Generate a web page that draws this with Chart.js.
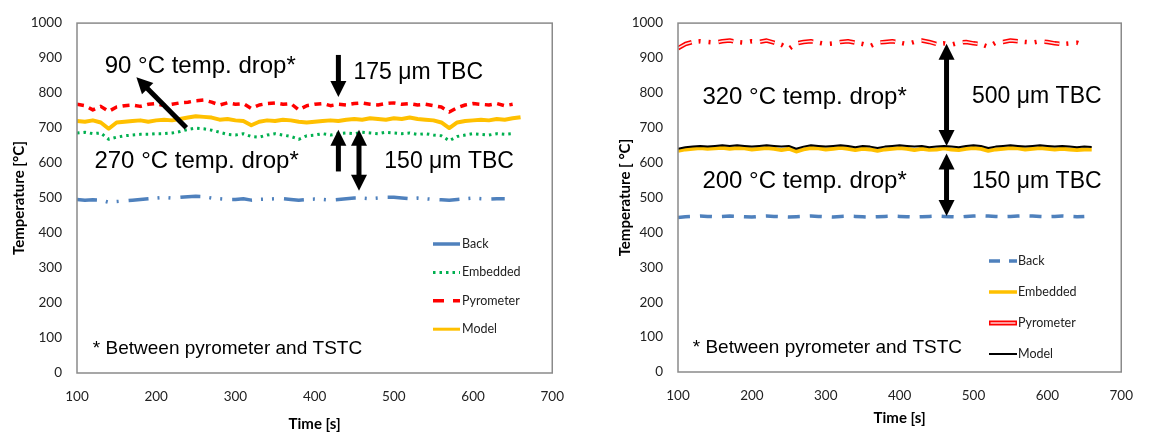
<!DOCTYPE html>
<html>
<head>
<meta charset="utf-8">
<script src="https://cdn.jsdelivr.net/npm/chart.js@4.4.1/dist/chart.umd.min.js"></script>
<style>
  html, body { margin: 0; padding: 0; background: #fff; }
  #wrap { position: relative; width: 1149px; height: 438px; }
  .box { position: absolute; top: 0; height: 438px; }
  #left { left: 0; width: 580px; }
  #right { left: 580px; width: 569px; }
</style>
</head>
<body>
<div id="wrap">
  <div class="box" id="left"><canvas id="chartA" width="580" height="438"></canvas></div>
  <div class="box" id="right"><canvas id="chartB" width="569" height="438"></canvas></div>
</div>
<script>
// time axis, seconds (shared by both panels)
const times = [100, 110, 120, 130, 140, 150, 160, 170, 180, 190,
  200, 210, 220, 230, 240, 250, 260, 270, 280, 290,
  300, 310, 320, 330, 340, 350, 360, 370, 380, 390,
  400, 410, 420, 430, 440, 450, 460, 470, 480, 490,
  500, 510, 520, 530, 540, 550, 560, 570, 580, 590,
  600, 610, 620, 630, 640, 650, 660];

const xTicks = [100, 200, 300, 400, 500, 600, 700];
const yTicks = [0, 100, 200, 300, 400, 500, 600, 700, 800, 900, 1000];
const seriesNames = ['Back', 'Embedded', 'Pyrometer', 'Model'];

// left panel: 175 / 150 um TBC
const leftPyrometer = [768, 764, 752, 762, 748, 760, 764, 766, 762, 768,
  770, 764, 768, 772, 774, 778, 780, 774, 766, 772,
  768, 770, 756, 766, 770, 772, 768, 770, 752, 764,
  768, 770, 764, 768, 766, 770, 772, 768, 766, 770,
  772, 768, 770, 766, 768, 764, 760, 746, 758, 766,
  770, 768, 766, 770, 764, 768, null];
const leftModel = [720, 718, 722, 716, 698, 716, 718, 720, 722, 718,
  722, 724, 722, 726, 730, 734, 732, 730, 724, 726,
  722, 720, 708, 718, 722, 720, 724, 722, 718, 716,
  718, 720, 722, 720, 724, 726, 724, 728, 726, 724,
  728, 726, 730, 726, 724, 722, 716, 700, 716, 720,
  722, 724, 722, 726, 724, 728, 731];
const leftEmbedded = [686, 688, 684, 686, 668, 674, 678, 680, 682, 682,
  684, 684, 686, 690, 696, 700, 698, 694, 688, 682,
  680, 684, 676, 674, 680, 684, 680, 676, 668, 678,
  680, 684, 680, 684, 686, 684, 688, 686, 684, 688,
  686, 684, 686, 682, 684, 680, 678, 664, 676, 680,
  684, 682, 680, 684, 682, 684, null];
const leftBack = [496, 494, 495, 494, 488, 490, 492, 494, 496, 498,
  500, 502, 500, 502, 504, 505, 504, 500, 498, 496,
  496, 498, 494, 496, 497, 498, 498, 496, 494, 496,
  497, 496, 494, 496, 498, 500, 500, 498, 500, 502,
  502, 500, 498, 500, 498, 496, 495, 494, 496, 498,
  500, 498, 497, 498, 498, null, null];

// right panel: 500 / 150 um TBC
const rightPyrometer = [928, 940, 946, 948, 946, 944, 948, 950, 946, 944,
  948, 946, 950, 944, 938, 926, 942, 946, 948, 944,
  940, 942, 946, 948, 944, 940, 934, 944, 946, 948,
  944, 940, 946, 950, 946, 940, 942, 938, 944, 946,
  942, 940, 932, 944, 946, 950, 948, 946, 944, 948,
  946, 942, 940, 942, 944, 936, null];
const rightModel = [640, 644, 646, 648, 646, 648, 650, 648, 650, 648,
  646, 648, 650, 648, 646, 648, 640, 646, 650, 648,
  646, 648, 650, 648, 644, 648, 646, 642, 646, 648,
  650, 648, 646, 648, 644, 646, 648, 646, 644, 648,
  650, 648, 642, 646, 648, 650, 648, 646, 648, 650,
  648, 646, 648, 646, 644, 646, 645];
const rightEmbedded = [634, 638, 640, 642, 640, 641, 643, 640, 642, 641,
  638, 640, 642, 640, 636, 640, 632, 638, 642, 641,
  638, 640, 643, 640, 636, 640, 638, 634, 638, 640,
  642, 640, 636, 640, 637, 638, 641, 638, 636, 640,
  642, 640, 634, 638, 640, 642, 641, 638, 640, 642,
  640, 638, 640, 638, 636, 638, 638];
const rightBack = [443, 445, 446, 447, 446, 445, 446, 447, 446, 445,
  444, 446, 447, 446, 445, 444, 445, 446, 447, 446,
  445, 444, 446, 447, 446, 445, 444, 445, 446, 447,
  446, 445, 444, 445, 446, 447, 446, 445, 444, 446,
  447, 448, 447, 446, 445, 446, 447, 448, 447, 446,
  445, 446, 447, 446, 445, 446, null];

// annotations, placed in data units: [time, temp, text, px size]
const leftNotes = [
  [135, 875, '90 °C temp. drop*', 24],
  [449, 859, '175 μm TBC', 23],
  [122, 604, '270 °C temp. drop*', 24],
  [488, 604, '150 μm TBC', 23],
  [120, 69, '* Between pyrometer and TSTC', 19]
];
const rightNotes = [
  [133, 788, '320 °C temp. drop*', 24],
  [498, 788, '500 μm TBC', 23],
  [133, 545, '200 °C temp. drop*', 24],
  [498, 545, '150 μm TBC', 23],
  [120, 70, '* Between pyrometer and TSTC', 19]
];
// arrows: [t1, T1, t2, T2 (tip), double headed]
const leftArrows = [
  [238, 701, 175, 845, false],
  [430, 909, 430, 789, false],
  [430, 576, 430, 695, false],
  [456, 521, 456, 695, true]
];
const rightArrows = [
  [463.5, 648, 463.5, 941, true],
  [463.5, 447, 463.5, 626, true]
];

function pts(vals) {
  return times.map((t, i) => ({ x: t, y: vals[i] }));
}

function drawArrow(ctx, x1, y1, x2, y2, both) {
  const ang = Math.atan2(y2 - y1, x2 - x1);
  const hl = 16, hw = 8;
  const c = Math.cos(ang), s = Math.sin(ang);
  let sx = x1, sy = y1;
  if (both) { sx = x1 + c * hl * 0.8; sy = y1 + s * hl * 0.8; }
  const ex = x2 - c * hl * 0.8, ey = y2 - s * hl * 0.8;
  ctx.strokeStyle = '#000';
  ctx.fillStyle = '#000';
  ctx.lineWidth = 5;
  ctx.lineCap = 'butt';
  ctx.beginPath();
  ctx.moveTo(sx, sy);
  ctx.lineTo(ex, ey);
  ctx.stroke();
  const head = (px, py, a) => {
    const cc = Math.cos(a), ss = Math.sin(a);
    ctx.beginPath();
    ctx.moveTo(px, py);
    ctx.lineTo(px - cc * hl - ss * hw, py - ss * hl + cc * hw);
    ctx.lineTo(px - cc * hl + ss * hw, py - ss * hl - cc * hw);
    ctx.closePath();
    ctx.fill();
  };
  head(x2, y2, ang);
  if (both) head(x1, y1, ang + Math.PI);
}

function overlay(cfg) {
  return {
    id: 'overlay',
    afterDatasetsDraw(chart) {
      const { ctx, chartArea: a, scales: { x, y } } = chart;
      ctx.save();
      ctx.strokeStyle = '#8a8a8a';
      ctx.lineWidth = 1.5;
      ctx.strokeRect(a.left, a.top, a.right - a.left, a.bottom - a.top);

      cfg.arrows.forEach(ar => drawArrow(ctx,
        x.getPixelForValue(ar[0]), y.getPixelForValue(ar[1]),
        x.getPixelForValue(ar[2]), y.getPixelForValue(ar[3]), ar[4]));

      ctx.fillStyle = '#000';
      ctx.textAlign = 'left';
      ctx.textBaseline = 'middle';
      cfg.notes.forEach(n => {
        ctx.font = n[3] + 'px "Liberation Sans", Arial, sans-serif';
        ctx.fillText(n[2], x.getPixelForValue(n[0]), y.getPixelForValue(n[1]));
      });

      // legend inside the plot
      const L = cfg.legend;
      ctx.font = '12.5px Lato, sans-serif';
      seriesNames.forEach((name, i) => {
        const st = L.styles[i];
        const yy = L.y0 + i * L.step;
        ctx.setLineDash(st.dash || []);
        ctx.strokeStyle = st.color;
        ctx.lineWidth = st.width;
        ctx.beginPath();
        ctx.moveTo(L.x0, yy);
        ctx.lineTo(L.x1, yy);
        ctx.stroke();
        if (st.inner) {
          ctx.strokeStyle = st.inner;
          ctx.lineWidth = 2;
          ctx.beginPath();
          ctx.moveTo(L.x0 + 1.5, yy);
          ctx.lineTo(L.x1 - 1.5, yy);
          ctx.stroke();
        }
        ctx.setLineDash([]);
        ctx.fillStyle = '#222';
        ctx.fillText(name, L.tx, yy);
      });
      ctx.restore();
    }
  };
}

const tickFont = { family: 'Lato', size: 13.5 };
const titleFont = { family: 'Lato', size: 15, weight: 'bold' };

function scales(o) {
  return {
    x: {
      type: 'linear', min: 100, max: 700,
      grid: { display: false, drawTicks: false },
      border: { display: false },
      afterBuildTicks: s => { s.ticks = xTicks.map(v => ({ value: v })); },
      ticks: { color: '#222', font: tickFont, padding: o.xPad, maxRotation: 0, callback: v => String(v) },
      title: { display: true, text: 'Time [s]', color: '#000', font: titleFont, padding: { top: 0, bottom: o.xTitlePad } },
      afterFit: s => { s.height = o.xHeight; }
    },
    y: {
      type: 'linear', min: 0, max: 1000,
      grid: { display: false, drawTicks: false },
      border: { display: false },
      afterBuildTicks: s => { s.ticks = yTicks.map(v => ({ value: v })); },
      ticks: { color: '#222', font: tickFont, padding: 15, callback: v => String(v) },
      title: { display: true, text: o.yTitle, color: '#000', font: titleFont, padding: { top: o.yTitlePad, bottom: 0 } },
      afterFit: s => { s.width = o.yWidth; }
    }
  };
}

function line(vals, color, width, dash, order) {
  return {
    data: pts(vals), borderColor: color, borderWidth: width, borderDash: dash,
    pointRadius: 0, tension: 0, fill: false, borderJoinStyle: 'round', order: order
  };
}

const blue = '#4f81bd', green = '#00b050', red = '#ff0000', gold = '#ffc000';

new Chart(document.getElementById('chartA'), {
  type: 'line',
  data: {
    datasets: [
      line(leftBack, blue, 3.5, [20, 9, 2, 9, 2, 10], 3),
      line(leftEmbedded, green, 3, [2.5, 4], 2),
      line(leftPyrometer, red, 3.5, [7, 5.5], 1),
      line(leftModel, gold, 4, [], 0)
    ]
  },
  options: {
    responsive: false, animation: false,
    layout: { padding: { left: 0, top: 12, right: 21, bottom: 0 } },
    plugins: { legend: { display: false }, tooltip: { enabled: false } },
    scales: scales({ xPad: 16, xTitlePad: 5, xHeight: 65, yTitle: 'Temperature [°C]', yTitlePad: 10, yWidth: 77 })
  },
  plugins: [overlay({
    notes: leftNotes, arrows: leftArrows,
    legend: {
      x0: 433, x1: 460, tx: 462, y0: 244, step: 28.4,
      styles: [
        { color: blue, width: 3.5 },
        { color: green, width: 3, dash: [2.5, 4] },
        { color: red, width: 3.5, dash: [11, 9] },
        { color: gold, width: 3 }
      ]
    }
  })]
});

new Chart(document.getElementById('chartB'), {
  type: 'line',
  data: {
    datasets: [
      line(rightBack, blue, 3.5, [12, 10], 4),
      line(rightPyrometer, red, 4.5, [15, 7, 2, 8, 2, 8], 3),
      line(rightPyrometer, '#ffe0e0', 1.5, [15, 27], 2),
      line(rightEmbedded, gold, 4, [], 1),
      line(rightModel, '#000', 2, [], 0)
    ]
  },
  options: {
    responsive: false, animation: false,
    layout: { padding: { left: 0, top: 14, right: 22, bottom: 0 } },
    plugins: { legend: { display: false }, tooltip: { enabled: false } },
    scales: scales({ xPad: 16, xTitlePad: 11, xHeight: 66, yTitle: 'Temperature [ °C]', yTitlePad: 36, yWidth: 98 })
  },
  plugins: [overlay({
    notes: rightNotes, arrows: rightArrows,
    legend: {
      x0: 409, x1: 437, tx: 438, y0: 261, step: 31,
      styles: [
        { color: blue, width: 3.5, dash: [11, 9] },
        { color: gold, width: 3.5 },
        { color: red, width: 5, inner: '#ff9a9a' },
        { color: '#000', width: 2 }
      ]
    }
  })]
});
</script>
</body>
</html>
